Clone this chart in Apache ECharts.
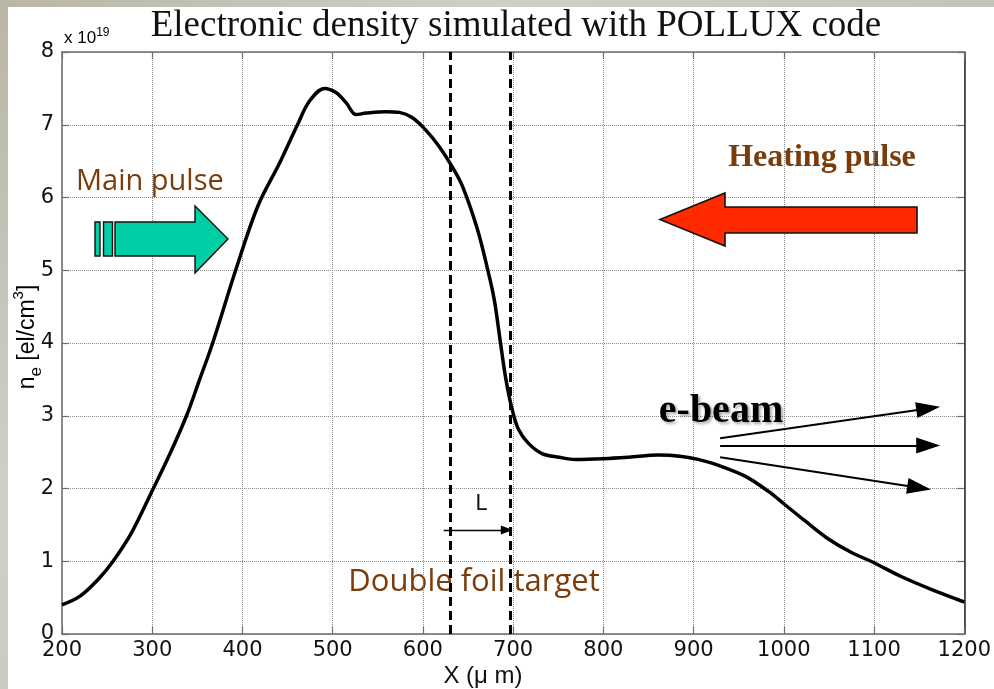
<!DOCTYPE html>
<html>
<head>
<meta charset="utf-8">
<script src="https://cdn.jsdelivr.net/npm/echarts@6/dist/echarts.min.js"></script>
<style>
html,body{margin:0;padding:0;width:994px;height:689px;overflow:hidden;
background:linear-gradient(135deg,#b9b6a6 0%,#cfd0c8 30%,#c2c4bb 60%,#d6d2c4 100%);}
#paper{position:absolute;left:8px;top:7px;right:0;bottom:0;background:#fff;}
#chart{position:absolute;left:0;top:0;width:994px;height:689px;}
</style>
</head>
<body>
<div id="paper"></div>
<div id="chart"></div>
<script>
// Position along X (micrometres)
const xPositions = [200,220,240,256,277,300,319,338,352,367,393,417,441,461,474,491,504,515,526,537,559,574,588,603,618,632,644,660,671,679,686,692,699,706,717,732,751,769,800,828,861,887,905,927,957,983,1001,1024,1049,1075,1100,1130,1164,1200];
// Electronic density (x 10^19 el/cm^3)
const density = [0.40,0.52,0.75,0.99,1.39,1.97,2.46,3.0,3.48,4.0,5.02,5.88,6.47,7.0,7.32,7.50,7.44,7.30,7.14,7.16,7.18,7.17,7.10,6.93,6.70,6.43,6.15,5.58,5.05,4.60,4.0,3.5,3.08,2.81,2.62,2.48,2.43,2.40,2.41,2.43,2.46,2.44,2.40,2.32,2.17,1.96,1.78,1.55,1.31,1.12,0.98,0.79,0.61,0.44];
// Foil positions (micrometres)
const foilPositions = [630, 697];
const chartTitle = 'Electronic density simulated with POLLUX code';

const chart = echarts.init(document.getElementById('chart'), null, {renderer:'canvas'});
const seriesData = xPositions.map((x,i)=>[x,density[i]]);
const axisGrey = '#6e6e6e';
const tickFont = {fontFamily:'DejaVu Sans', fontSize:21, color:'#111'};
const brown = '#7b3c0c';

function arrowLine(p0,p1,w,size){
  return [{coord:p0, symbol:'none', lineStyle:{type:'solid',width:w,color:'#000'}},
          {coord:p1, symbol:'triangle', symbolSize:size}];
}

const option = {
  backgroundColor:'transparent',
  animation:false,
  grid:{left:62,right:28,top:52,bottom:55,containLabel:false},
  xAxis:[{
    type:'value',min:200,max:1200,interval:100,
    axisLine:{show:true,onZero:false,lineStyle:{color:axisGrey,width:1.5}},
    axisTick:{show:true,inside:true,length:7,lineStyle:{color:axisGrey,width:1.2}},
    axisLabel:Object.assign({margin:6,formatter:v=>String(v)},tickFont),
    splitLine:{show:true,lineStyle:{type:'dotted',color:'#8a8a8a',width:1}}
  },{
    type:'value',position:'top',min:200,max:1200,interval:100,
    axisLine:{show:true,onZero:false,lineStyle:{color:axisGrey,width:1.5}},
    axisTick:{show:true,inside:true,length:7,lineStyle:{color:axisGrey,width:1.2}},
    axisLabel:{show:false},splitLine:{show:false}
  }],
  yAxis:[{
    type:'value',min:0,max:8,interval:1,
    axisLine:{show:true,onZero:false,lineStyle:{color:axisGrey,width:1.5}},
    axisTick:{show:true,inside:true,length:7,lineStyle:{color:axisGrey,width:1.2}},
    axisLabel:Object.assign({margin:8,formatter:v=>String(v)},tickFont),
    splitLine:{show:true,lineStyle:{type:'dotted',color:'#8a8a8a',width:1}}
  },{
    type:'value',position:'right',min:0,max:8,interval:1,
    axisLine:{show:true,onZero:false,lineStyle:{color:'#222',width:1.5}},
    axisTick:{show:true,inside:true,length:7,lineStyle:{color:axisGrey,width:1.2}},
    axisLabel:{show:false},splitLine:{show:false}
  }],
  series:[{
    type:'line',data:seriesData,smooth:0.35,showSymbol:false,symbol:'none',
    lineStyle:{color:'#000',width:3.5},z:5,
    markLine:{
      silent:true,symbol:['none','none'],animation:false,
      label:{show:false},
      data:[
        [{coord:[foilPositions[0],0],lineStyle:{type:[9,5],width:3,color:'#000'}},{coord:[foilPositions[0],8]}],
        [{coord:[foilPositions[1],0],lineStyle:{type:[9,5],width:3,color:'#000'}},{coord:[foilPositions[1],8]}],
        arrowLine([623,1.43],[693,1.43],1.3,[9,12]),
        arrowLine([929.4,2.69],[1160,3.10],2,[16,24]),
        arrowLine([929.4,2.59],[1160,2.59],2,[16,24]),
        arrowLine([929.4,2.43],[1150,2.01],2,[16,24])
      ]
    }
  }],
  graphic:[
    {type:'text',x:516,y:26,style:{text:chartTitle,font:'37px "Liberation Serif"',fill:'#111',textAlign:'center',textVerticalAlign:'middle'}},
    {type:'text',x:64,y:27,style:{text:'{a|x 10}{b|19}',rich:{a:{fontFamily:'Liberation Sans',fontSize:17,color:'#111',lineHeight:20,verticalAlign:'bottom'},b:{fontFamily:'Liberation Sans',fontSize:12,color:'#111',verticalAlign:'top',lineHeight:20}}}},
    {type:'text',x:483,y:676,style:{text:'X (μ m)',font:'24px "Liberation Sans"',fill:'#111',textAlign:'center',textVerticalAlign:'middle'}},
    {type:'text',x:28,y:337,rotation:Math.PI/2,style:{text:'{n|n}{s|e}{n| [el/cm}{p|3}{n|]}',textAlign:'center',textVerticalAlign:'middle',
      rich:{n:{fontFamily:'Liberation Sans',fontSize:23,color:'#111',lineHeight:34,verticalAlign:'middle'},
            s:{fontFamily:'Liberation Sans',fontSize:17,color:'#111',lineHeight:34,verticalAlign:'bottom'},
            p:{fontFamily:'Liberation Sans',fontSize:15,color:'#111',lineHeight:34,verticalAlign:'top'}}}},
    {type:'text',x:76,y:182,style:{text:'Main pulse',font:'29px "Open Sans"',fill:brown,textVerticalAlign:'middle'}},
    {type:'text',x:822,y:158,style:{text:'Heating pulse',font:'bold 32px "Liberation Serif"',fill:brown,textAlign:'center',textVerticalAlign:'middle'}},
    {type:'text',x:474,y:582,style:{text:'Double foil target',font:'31px "Open Sans"',fill:brown,textAlign:'center',textVerticalAlign:'middle'}},
    {type:'text',x:481,y:505,style:{text:'L',font:'21px "DejaVu Sans"',fill:'#111',textAlign:'center',textVerticalAlign:'middle'}},
    {type:'text',x:721,y:412,z:10,style:{text:'e-beam',font:'bold 40px "Liberation Serif"',fill:'#000',textAlign:'center',textVerticalAlign:'middle',
      textShadowColor:'rgba(0,0,0,0.35)',textShadowBlur:3,textShadowOffsetX:2,textShadowOffsetY:2}},
    {type:'polygon',shape:{points:[[917,207],[725,207],[725,193],[660,219.5],[725,246],[725,233],[917,233]]},style:{fill:'#ff2a00',stroke:'#111',lineWidth:1.6},z:8},
    {type:'rect',shape:{x:95,y:222,width:5,height:34},style:{fill:'#00cfa6',stroke:'#111',lineWidth:1.4},z:8},
    {type:'rect',shape:{x:103.5,y:222,width:9,height:34},style:{fill:'#00cfa6',stroke:'#111',lineWidth:1.4},z:8},
    {type:'polygon',shape:{points:[[115,222],[195,222],[195,206],[228,239],[195,273],[195,256],[115,256]]},style:{fill:'#00cfa6',stroke:'#111',lineWidth:1.4},z:8}
  ]
};
chart.setOption(option);
</script>
</body>
</html>
